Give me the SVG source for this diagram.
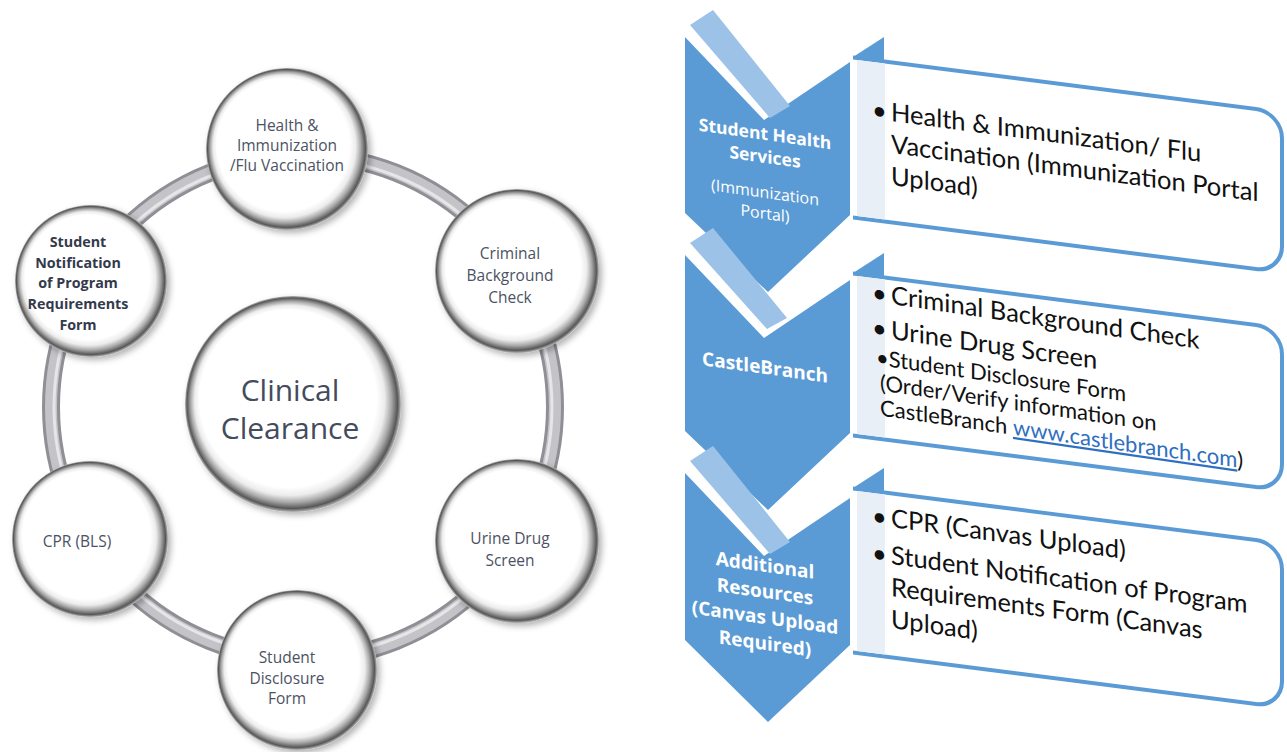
<svg xmlns="http://www.w3.org/2000/svg" width="1287" height="752" viewBox="0 0 1287 752">
<defs>
<radialGradient id="bevel" cx="0.5" cy="0.5" r="0.5" fx="0.37" fy="0.36">
<stop offset="0" stop-color="#ffffff"/>
<stop offset="0.82" stop-color="#ffffff"/>
<stop offset="0.88" stop-color="#ececec"/>
<stop offset="0.93" stop-color="#a8a8a8"/>
<stop offset="0.975" stop-color="#575757"/>
<stop offset="1" stop-color="#b8b8b8"/>
</radialGradient>
<filter id="shadow" x="-20%" y="-20%" width="140%" height="140%">
<feGaussianBlur in="SourceAlpha" stdDeviation="3"/>
<feOffset dx="3" dy="3" result="b"/>
<feFlood flood-color="#000" flood-opacity="0.3"/>
<feComposite in2="b" operator="in"/>
<feMerge><feMergeNode/><feMergeNode in="SourceGraphic"/></feMerge>
</filter>
<style>
.node{fill:url(#bevel);filter:url(#shadow)}
.nt{font-family:"Open Sans","DejaVu Sans",sans-serif;font-size:15.5px;fill:#4c5264;text-anchor:middle}
.nb{font-weight:bold;fill:#333a4c;font-size:14.3px}
.ct{font-family:"Open Sans","DejaVu Sans",sans-serif;font-size:30px;fill:#434b5c;text-anchor:middle}
.chev{fill:#5b9bd5}
.bar{fill:#9cc2e8}
.cht{font-family:"Open Sans","DejaVu Sans",sans-serif;font-size:17.5px;font-weight:bold;fill:#ffffff;text-anchor:middle}
.chs{font-weight:normal;font-size:16px}
.chb{font-size:19px}
.box{fill:#ffffff;stroke:#5b9bd5;stroke-width:4}
.side{fill:#e9eff7}
.tab{fill:#5b9bd5}
.bt{font-family:"Lato","Open Sans",sans-serif;font-size:25.5px;fill:#111111}
.bs{font-size:22px}
.link{fill:#2f6fc0;text-decoration:underline}
</style>
</defs>

<g id="connectors">
<circle cx="303" cy="407" r="252" fill="none" stroke="#8f8f96" stroke-width="18"/>
<circle cx="303" cy="407" r="252" fill="none" stroke="#c3c3c8" stroke-width="12"/>
<circle cx="303" cy="407" r="249" fill="none" stroke="#e6e6e9" stroke-width="3"/>
</g>

<g id="node-center">
<circle class="node" cx="293" cy="404" r="108"/>
<text class="ct" x="290" y="401">Clinical</text>
<text class="ct" x="290" y="439">Clearance</text>
</g>

<g id="node-health">
<circle class="node" cx="287" cy="149" r="81"/>
<text class="nt" x="287" y="131">Health &amp;</text>
<text class="nt" x="287" y="151">Immunization</text>
<text class="nt" x="287" y="171">/Flu Vaccination</text>
</g>

<g id="node-criminal">
<circle class="node" cx="517" cy="271" r="82"/>
<text class="nt" x="510" y="259">Criminal</text>
<text class="nt" x="510" y="281">Background</text>
<text class="nt" x="510" y="303">Check</text>
</g>

<g id="node-urine">
<circle class="node" cx="517" cy="541" r="82"/>
<text class="nt" x="510" y="544">Urine Drug</text>
<text class="nt" x="510" y="566">Screen</text>
</g>

<g id="node-disclosure">
<circle class="node" cx="297" cy="670" r="80"/>
<text class="nt" x="287" y="663">Student</text>
<text class="nt" x="287" y="684">Disclosure</text>
<text class="nt" x="287" y="704">Form</text>
</g>

<g id="node-cpr">
<circle class="node" cx="90" cy="539" r="78"/>
<text class="nt" x="77" y="547">CPR (BLS)</text>
</g>

<g id="node-notification">
<circle class="node" cx="91" cy="281" r="76"/>
<text class="nt nb" x="78" y="247">Student</text>
<text class="nt nb" x="78" y="268">Notification</text>
<text class="nt nb" x="78" y="288">of Program</text>
<text class="nt nb" x="78" y="309">Requirements</text>
<text class="nt nb" x="78" y="330">Form</text>
</g>

<g id="box-1">
<g transform="translate(857,58) skewY(7.3)">
<path class="box" d="M-4,0 H399 A26,26 0 0 1 425,26 V134 A26,26 0 0 1 399,160 H-4"/>
<rect class="side" x="0" y="2" width="28" height="156"/>
</g>
<polygon class="tab" points="853,57 884,37 884,62"/>
<g transform="translate(891,121) skewY(7.5)">
<text class="bt" x="-19" y="0">•</text>
<text class="bt" x="0" y="0">Health &amp; Immunization/ Flu</text>
<text class="bt" x="0" y="32">Vaccination (Immunization Portal</text>
<text class="bt" x="0" y="64">Upload)</text>
</g>
</g>

<g id="box-2">
<g transform="translate(857,274) skewY(7.3)">
<path class="box" d="M-4,0 H399 A26,26 0 0 1 425,26 V136 A26,26 0 0 1 399,162 H-4"/>
<rect class="side" x="0" y="2" width="28" height="158"/>
</g>
<polygon class="tab" points="853,273 884,253 884,278"/>
<g transform="translate(891,304) skewY(8.3)">
<text class="bt" x="-19" y="0">•</text>
<text class="bt" x="0" y="0">Criminal Background Check</text>
<text class="bt" x="-19" y="35">•</text>
<text class="bt" x="0" y="35">Urine Drug Screen</text>
<text class="bt bs" x="-15" y="63">•Student Disclosure Form</text>
<text class="bt bs" x="-11" y="88">(Order/Verify information on</text>
<text class="bt bs" x="-11" y="113">CastleBranch <tspan class="link">www.castlebranch.com</tspan>)</text>
</g>
</g>

<g id="box-3">
<g transform="translate(857,489) skewY(7.3)">
<path class="box" d="M-4,0 H399 A26,26 0 0 1 425,26 V138 A26,26 0 0 1 399,164 H-4"/>
<rect class="side" x="0" y="2" width="28" height="160"/>
</g>
<polygon class="tab" points="853,488 884,468 884,493"/>
<g transform="translate(891,527) skewY(7.8)">
<text class="bt" x="-19" y="0">•</text>
<text class="bt" x="0" y="0">CPR (Canvas Upload)</text>
<text class="bt" x="-19" y="37">•</text>
<text class="bt" x="0" y="37">Student Notification of Program</text>
<text class="bt" x="0" y="69">Requirements Form (Canvas</text>
<text class="bt" x="0" y="101">Upload)</text>
</g>
</g>

<g id="chevron-1">
<polygon class="chev" points="685,37 764,120 850,62 850,215 768,292 685,213"/>
<g transform="translate(765,0) skewY(8)">
<text class="cht" x="0" y="140">Student Health</text>
<text class="cht" x="0" y="163">Services</text>
<text class="cht chs" x="0" y="198">(Immunization</text>
<text class="cht chs" x="0" y="219">Portal)</text>
</g>
<polygon class="bar" points="690,25 713,10 790,106 770,118"/>
</g>

<g id="chevron-2">
<polygon class="chev" points="685,255 764,338 850,280 850,433 768,510 685,431"/>
<g transform="translate(765,0) skewY(8)">
<text class="cht chb" x="0" y="374">CastleBranch</text>
</g>
<polygon class="bar" points="690,243 713,228 787,318 767,329"/>
</g>

<g id="chevron-3">
<polygon class="chev" points="685,473 764,556 850,498 850,645 768,722 685,640"/>
<g transform="translate(765,0) skewY(8)">
<text class="cht chb" x="0" y="572">Additional</text>
<text class="cht chb" x="0" y="598">Resources</text>
<text class="cht chb" x="0" y="624">(Canvas Upload</text>
<text class="cht chb" x="0" y="650">Required)</text>
</g>
<polygon class="bar" points="690,461 713,446 790,542 770,554"/>
</g>
</svg>
